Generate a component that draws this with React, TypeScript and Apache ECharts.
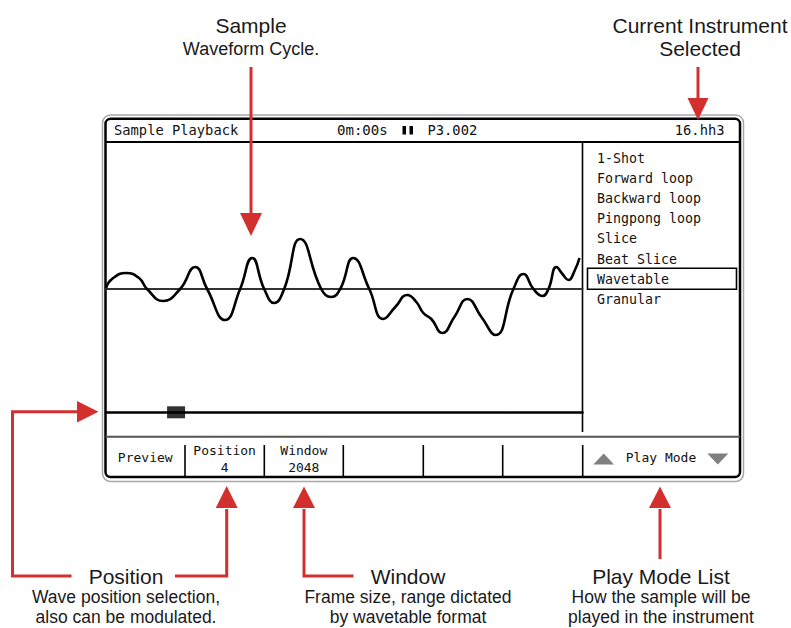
import React, { useEffect, useRef } from "react";
import * as echarts from "echarts";

// Waveform cycle (x: track units across the display, y: amplitude above zero line)
const waveX = [0, 6, 20, 33, 41, 57, 74, 89, 101, 119, 134, 146, 158, 168, 178, 194, 215, 225, 234, 247, 263, 277, 289, 301, 310, 317, 325, 336, 348, 361, 375, 389, 407, 417, 427, 436, 442, 450, 456, 462, 468, 473];
const waveY = [1, 10, 16, 11, 0, -12, 0, 22, 0, -31, 0, 31, 0, -14, 0, 50, 0, -8, 0, 31, 0, -30, -18, -6, -13, -24, -30, -44, -28, -10, -28, -46, 0, 15, 0, -7, 0, 22, 15, 9, 18, 31];

const sliderPosition = 70;

const headerLeft = "Sample Playback";
const headerTime = "0m:00s";
const headerPattern = "P3.002";
const headerInstrument = "16.hh3";

const playModes = ["1-Shot", "Forward loop", "Backward loop", "Pingpong loop", "Slice", "Beat Slice", "Wavetable", "Granular"];
const selectedMode = "Wavetable";

const cellLabels = ["Preview", "Position", "Window", "", "", ""];
const cellValues = ["", "4", "2048", "", "", ""];
const playModeLabel = "Play Mode";

const topNotes = [
  { title: "Sample", lines: ["Waveform Cycle."] },
  { title: "Current Instrument", lines: ["Selected"] },
];
const bottomNotes = [
  { title: "Position", lines: ["Wave position selection,", "also can be modulated."] },
  { title: "Window", lines: ["Frame size, range dictated", "by wavetable format"] },
  { title: "Play Mode List", lines: ["How the sample will be", "played in the instrument"] },
];

const RED = "#d42f2f";
const MONO = "DejaVu Sans Mono";
const SANS = "Liberation Sans, Arial, sans-serif";

function monoText(x: number, y: number, text: string, size: number, align: string, sx = 1): any {
  return {
    type: "text",
    x,
    y,
    scaleX: sx,
    silent: true,
    style: {
      text,
      x: 0,
      y: 0,
      textAlign: align,
      textVerticalAlign: "middle",
      font: `${size}px ${MONO}`,
      fill: "#111",
    },
  };
}

function sansText(x: number, y: number, text: string, size: number): any {
  return {
    type: "text",
    x,
    y,
    silent: true,
    style: {
      text,
      x: 0,
      y: 0,
      textAlign: "center",
      textVerticalAlign: "middle",
      font: `${size}px ${SANS}`,
      fill: "#1a1a1a",
    },
  };
}

function line(x1: number, y1: number, x2: number, y2: number, color: string, w: number): any {
  return {
    type: "line",
    silent: true,
    shape: { x1, y1, x2, y2 },
    style: { stroke: color, lineWidth: w },
  };
}

function poly(points: number[][], color: string, w: number): any {
  return {
    type: "polyline",
    silent: true,
    shape: { points },
    style: { stroke: color, lineWidth: w, fill: null, lineJoin: "miter" },
  };
}

function tri(points: number[][], color: string): any {
  return {
    type: "polygon",
    silent: true,
    shape: { points },
    style: { fill: color },
  };
}

export default function App() {
  const ref = useRef<HTMLDivElement>(null);

  useEffect(() => {
    if (!ref.current) return;
    const chart = echarts.init(ref.current, undefined, { renderer: "svg" });

    const g: any[] = [];

    // Device frame
    g.push({
      type: "rect",
      silent: true,
      shape: { x: 102.5, y: 115, width: 641, height: 366.5, r: 8 },
      style: { stroke: "#a8a8a8", lineWidth: 1.5, fill: null },
    });
    g.push({
      type: "rect",
      silent: true,
      shape: { x: 105.5, y: 118.8, width: 634.5, height: 358.2, r: 5 },
      style: { stroke: "#000", lineWidth: 2.5, fill: null },
    });
    g.push(line(105.5, 142, 740, 142, "#000", 2));
    g.push(line(582.5, 142, 582.5, 432, "#000", 1.6));
    g.push(line(105.5, 436.7, 740, 436.7, "#555", 2));
    const dividers = [185, 264.3, 343.3, 423.3, 502.7, 582.7];
    dividers.forEach((x) => g.push(line(x, 445, x, 476, "#000", 1.6)));

    // Header
    g.push(monoText(114, 130, headerLeft, 14.5, "left", 0.95));
    g.push(monoText(337, 130, headerTime, 14.5, "left", 0.97));
    g.push({ type: "rect", silent: true, shape: { x: 402.5, y: 126, width: 3.5, height: 8.5 }, style: { fill: "#000" } });
    g.push({ type: "rect", silent: true, shape: { x: 409.5, y: 126, width: 3.5, height: 8.5 }, style: { fill: "#000" } });
    g.push(monoText(427.5, 130, headerPattern, 14.5, "left", 0.95));
    g.push(monoText(724.5, 130, headerInstrument, 14.5, "right", 0.95));

    // Play mode list
    playModes.forEach((m, i) => {
      const y = 157.5 + i * 20.2;
      if (m === selectedMode) {
        g.push({
          type: "rect",
          silent: true,
          shape: { x: 587.5, y: y - 10.5, width: 149, height: 21 },
          style: { stroke: "#000", lineWidth: 1.6, fill: null },
        });
      }
      g.push(monoText(597, y, m, 14, "left", 0.95));
    });

    // Bottom soft-key cells
    const cellEdges = [105.5, ...dividers];
    cellLabels.forEach((lab, i) => {
      const cx = (cellEdges[i] + cellEdges[i + 1]) / 2;
      if (!lab) return;
      if (cellValues[i]) {
        g.push(monoText(cx, 450, lab, 13, "center"));
        g.push(monoText(cx, 467.3, cellValues[i], 13, "center"));
      } else {
        g.push(monoText(cx, 457.3, lab, 13, "center"));
      }
    });
    g.push(monoText(661, 457.3, playModeLabel, 13, "center"));
    g.push(tri([[593.3, 464.5], [614, 464.5], [603.7, 453.5]], "#808080"));
    g.push(tri([[707.3, 453.5], [728.3, 453.5], [717.8, 464.5]], "#808080"));

    // Annotations - top
    g.push(sansText(251, 25, topNotes[0].title, 21));
    g.push(sansText(251, 49, topNotes[0].lines[0], 18));
    g.push(sansText(700, 25, topNotes[1].title, 21));
    g.push(sansText(700, 48.5, topNotes[1].lines[0], 21));
    g.push(line(251, 67, 251, 215, RED, 3));
    g.push(tri([[240, 213], [262, 213], [251, 236]], RED));
    g.push(line(698, 67, 698, 100, RED, 3));
    g.push(tri([[687.5, 98], [708.5, 98], [698, 120]], RED));

    // Annotations - bottom
    const bx = [126, 408, 661];
    bottomNotes.forEach((n, i) => {
      g.push(sansText(bx[i], 576, n.title, 21));
      g.push(sansText(bx[i], 596.5, n.lines[0], 17.5));
      g.push(sansText(bx[i], 617, n.lines[1], 17.5));
    });
    g.push(poly([[71.5, 576], [12.5, 576], [12.5, 411.7], [78, 411.7]], RED, 3));
    g.push(tri([[77, 401], [98.5, 411.7], [77, 422.4]], RED));
    g.push(poly([[175, 576], [226.7, 576], [226.7, 509]], RED, 3));
    g.push(tri([[215.7, 508], [237.7, 508], [226.7, 486]], RED));
    g.push(poly([[353.5, 576], [304, 576], [304, 509]], RED, 3));
    g.push(tri([[293, 508], [315, 508], [304, 486.5]], RED));
    g.push(line(660, 559, 660, 509, RED, 3));
    g.push(tri([[649, 508], [671, 508], [660, 486.5]], RED));

    const hiddenAxisParts = {
      axisTick: { show: false },
      axisLabel: { show: false },
      splitLine: { show: false },
    };

    chart.setOption({
      animation: false,
      backgroundColor: "#fff",
      grid: [
        { left: 106, top: 229, width: 476.5, height: 120 },
        { left: 106, top: 402.3, width: 476.5, height: 20 },
      ],
      xAxis: [
        {
          type: "value",
          gridIndex: 0,
          min: 0,
          max: 476,
          axisLine: { show: true, onZero: true, lineStyle: { color: "#333", width: 2 } },
          ...hiddenAxisParts,
        },
        {
          type: "value",
          gridIndex: 1,
          min: 0,
          max: 476,
          axisLine: { show: true, onZero: true, lineStyle: { color: "#000", width: 2.5 } },
          ...hiddenAxisParts,
        },
      ],
      yAxis: [
        { type: "value", gridIndex: 0, min: -60, max: 60, show: false },
        { type: "value", gridIndex: 1, min: -1, max: 1, show: false },
      ],
      series: [
        {
          type: "line",
          xAxisIndex: 0,
          yAxisIndex: 0,
          data: waveX.map((x, i) => [x, waveY[i]]),
          smooth: 0.5,
          showSymbol: false,
          symbol: "none",
          silent: true,
          clip: false,
          lineStyle: { color: "#000", width: 2.6 },
        },
        {
          type: "scatter",
          xAxisIndex: 1,
          yAxisIndex: 1,
          data: [[sliderPosition, 0]],
          symbol: "rect",
          symbolSize: [18, 12],
          silent: true,
          itemStyle: { color: "#000" },
        },
      ],
      graphic: { elements: g },
    });

    return () => chart.dispose();
  }, []);

  return (
    <div
      ref={ref}
      style={{ position: "fixed", left: 0, top: 0, width: 791, height: 628, background: "#fff" }}
    />
  );
}
